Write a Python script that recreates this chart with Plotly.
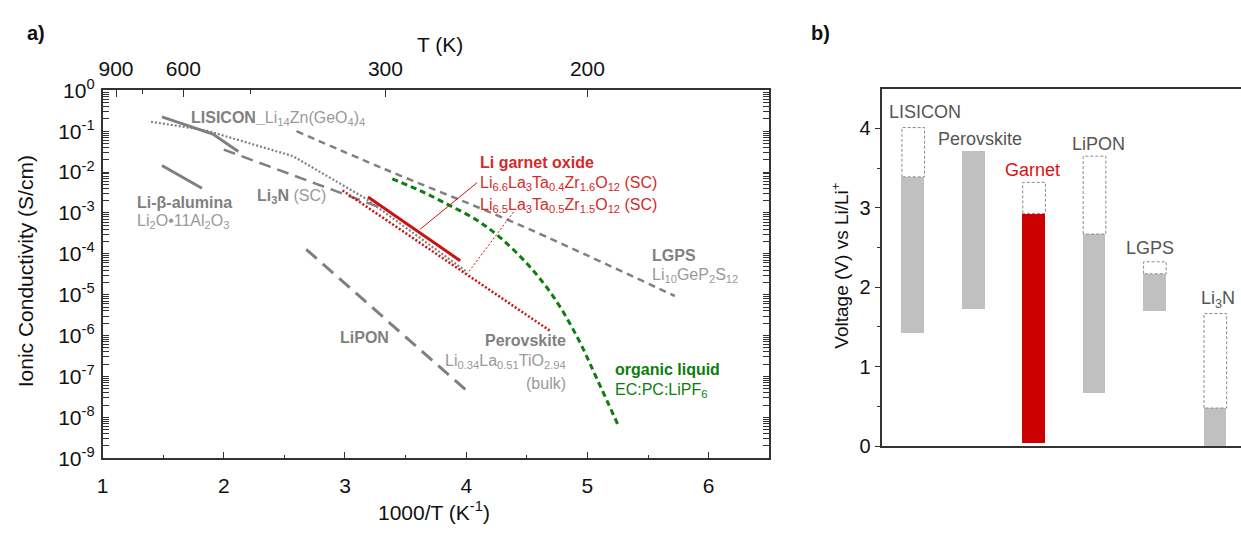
import plotly.graph_objects as go

FONT = "Liberation Sans, Arial, sans-serif"
GRAY = "#808080"
GRAY_T = "#999999"
RED = "#cc1111"
RED_T = "#d42a2a"
GREEN = "#0e7d0e"

# ---------------- panel a data (x = 1000/T, y = conductivity S/cm) -------------
beta_x = [1.49, 1.82]
beta_y = [1.45e-2, 4.0e-3]

lisicon_x = [1.49, 1.91, 2.12]
lisicon_y = [0.224, 0.085, 0.032]

perov_x = [1.40, 1.85, 2.57, 2.94, 3.16, 4.01]
perov_y = [0.17, 0.105, 0.0245, 5.5e-3, 2.35e-3, 3.55e-5]

g65_x = [2.98, 4.70]
g65_y = [3.55e-3, 1.26e-6]

g66_x = [3.19, 3.95]
g66_y = [2.45e-3, 6.8e-5]

li3n_x = [2.00, 3.30]
li3n_y = [3.55e-2, 1.32e-3]

lgps_x = [2.60, 3.33, 4.42, 5.72]
lgps_y = [0.10, 1.17e-2, 5.4e-4, 9.3e-6]

lipon_x = [2.68, 4.00]
lipon_y = [1.29e-4, 4.6e-8]

org_x = [3.39, 3.62, 3.85, 4.09, 4.28, 4.51, 4.72, 4.92, 5.08, 5.26]
org_y = [6.8e-3, 3.5e-3, 1.6e-3, 6.6e-4, 2.5e-4, 5.4e-5, 8.9e-6, 8.7e-7, 8.5e-8, 5.8e-9]

lead66_x = [4.09, 3.62]
lead66_y = [5.5e-3, 4.0e-4]
lead65_x = [4.39, 4.01]
lead65_y = [1.05e-3, 3.3e-5]

top_T = [900, 600, 300, 200]
top_T_minor = [750, 450]

# ---------------- panel b data (voltage windows vs Li/Li+) --------------------
mat = ["LISICON", "Perovskite", "Garnet", "LiPON", "LGPS", "Li<sub>3</sub>N"]
solid_lo = [1.43, 1.73, 0.04, 0.675, 1.71, 0.0]
solid_hi = [3.39, 3.72, 2.93, 2.67, 2.17, 0.48]
dash_hi = [4.01, None, 3.32, 3.65, 2.32, 1.67]
bar_colors = ["#c0c0c0", "#c0c0c0", "#cc0000", "#c0c0c0", "#c0c0c0", "#c0c0c0"]
lab_colors = ["#555555", "#555555", "#dd1111", "#555555", "#555555", "#555555"]
lab_dx = [0.19, 0.10, -0.02, 0.06, -0.08, 0.04]
lab_y = [4.20, 3.87, 3.48, 3.80, 2.50, 1.84]
BW = 0.375

fig = go.Figure()

def line(x, y, color, width, dash="solid", xa="x", ya="y", shape="linear"):
    fig.add_trace(go.Scatter(x=x, y=y, mode="lines", xaxis=xa, yaxis=ya,
                             line=dict(color=color, width=width, dash=dash, shape=shape),
                             hoverinfo="skip", showlegend=False))

line(beta_x, beta_y, GRAY, 3)
line(lisicon_x, lisicon_y, GRAY, 3)
line(perov_x, perov_y, GRAY, 2.2, "2px,2px")
line(li3n_x, li3n_y, GRAY, 2.5, "12px,7px")
line(lgps_x, lgps_y, GRAY, 2.5, "7px,5px", shape="spline")
line(lipon_x, lipon_y, GRAY, 3, "14px,8px")
line(g65_x, g65_y, RED, 2.5, "2px,2px")
line(g66_x, g66_y, RED, 3)
line(org_x, org_y, GREEN, 3, "6px,4px", shape="spline")
line(lead66_x, lead66_y, RED, 1)
line(lead65_x, lead65_y, RED, 1, "2px,2px")

# invisible trace to activate the top temperature axis
fig.add_trace(go.Scatter(x=[1000 / 300], y=[1e-5], mode="markers", xaxis="x2", yaxis="y",
                         marker=dict(opacity=0), hoverinfo="skip", showlegend=False))

# ---------------- panel b bars ----------------
xs = list(range(1, len(mat) + 1))
fig.add_trace(go.Bar(x=xs, y=[h - l for l, h in zip(solid_lo, solid_hi)], base=solid_lo,
                     width=BW, marker=dict(color=bar_colors, line=dict(width=0)),
                     xaxis="x3", yaxis="y3", hoverinfo="skip", showlegend=False))
for xi, lo, hi in zip(xs, solid_hi, dash_hi):
    if hi is None:
        continue
    line([xi - BW / 2, xi - BW / 2, xi + BW / 2, xi + BW / 2, xi - BW / 2],
         [lo, hi, hi, lo, lo], "#8a8a8a", 1, "3px,2px", xa="x3", ya="y3")

ann = []
def txt(x, y, s, color, size=16, xanchor="left", xref="x", yref="y", bold=False):
    ann.append(dict(x=x, y=y, xref=xref, yref=yref, text=(f"<b>{s}</b>" if bold else s),
                    showarrow=False, xanchor=xanchor, yanchor="middle",
                    font=dict(family=FONT, size=size, color=color)))

# panel a labels (y in log10 units)
ann.append(dict(x=1.71, y=-0.70, xref="x", yref="y", showarrow=False, xanchor="left", yanchor="middle",
                text=f"<b>LISICON_</b><span style='color:{GRAY_T}'>Li<sub>14</sub>Zn(GeO<sub>4</sub>)<sub>4</sub></span>",
                font=dict(family=FONT, size=16, color=GRAY)))
txt(1.27, -2.75, "Li-β-alumina", GRAY, bold=True)
txt(1.27, -3.22, "Li<sub>2</sub>O•11Al<sub>2</sub>O<sub>3</sub>", GRAY_T)
ann.append(dict(x=2.26, y=-2.59, xref="x", yref="y", showarrow=False, xanchor="left", yanchor="middle",
                text=f"<b>Li<sub>3</sub>N</b> <span style='color:{GRAY_T}'>(SC)</span>",
                font=dict(family=FONT, size=16, color=GRAY)))
txt(4.10, -1.77, "Li garnet oxide", RED_T, bold=True)
txt(4.10, -2.28, "Li<sub>6.6</sub>La<sub>3</sub>Ta<sub>0.4</sub>Zr<sub>1.6</sub>O<sub>12</sub> (SC)", RED_T)
txt(4.10, -2.82, "Li<sub>6.5</sub>La<sub>3</sub>Ta<sub>0.5</sub>Zr<sub>1.5</sub>O<sub>12</sub> (SC)", RED_T)
txt(5.52, -4.03, "LGPS", GRAY, bold=True)
txt(5.52, -4.52, "Li<sub>10</sub>GeP<sub>2</sub>S<sub>12</sub>", GRAY_T)
txt(2.94, -6.04, "LiPON", GRAY, bold=True)
txt(4.84, -6.11, "Perovskite", GRAY, xanchor="right", bold=True)
txt(4.84, -6.64, "Li<sub>0.34</sub>La<sub>0.51</sub>TiO<sub>2.94</sub>", GRAY_T, xanchor="right")
txt(4.84, -7.16, "(bulk)", GRAY_T, xanchor="right")
txt(5.21, -6.83, "organic liquid", GREEN, bold=True)
txt(5.21, -7.34, "EC:PC:LiPF<sub>6</sub>", GREEN)

# panel b labels
for xi, nm, dx, yy, c in zip(xs, mat, lab_dx, lab_y, lab_colors):
    txt(xi + dx, yy, nm, c, size=18, xanchor="center", xref="x3", yref="y3")

# titles / panel letters (paper coords)
def ptxt(xp, yp, s, size, angle=0, bold=False, color="#111111"):
    ann.append(dict(x=xp / 1241, y=1 - yp / 536, xref="paper", yref="paper", showarrow=False,
                    text=(f"<b>{s}</b>" if bold else s), textangle=angle,
                    xanchor="center", yanchor="middle",
                    font=dict(family=FONT, size=size, color=color)))

ptxt(30, 20, "a)", 20, bold=True)
ptxt(818, 20, "b)", 20, bold=True)
ptxt(436, 32, "T (K)", 21)
ptxt(430, 521, "1000/T (K<sup>-1</sup>)", 21)
ptxt(20, 270, "Ionic Conductivity (S/cm)", 21, angle=-90)
ptxt(838, 264, "Voltage (V) vs Li/Li<sup>+</sup>", 19, angle=-90)

AX = "#333333"
dec = [10.0 ** (-k) for k in range(0, 10)]
dec_txt = [f"10<sup>{-k}</sup>" if k else "10<sup>0</sup>" for k in range(0, 10)]
minor_log = [m * 10.0 ** (-k) for k in range(1, 10) for m in range(2, 10)]

fig.update_layout(
    width=1241, height=536, margin=dict(l=0, r=0, t=0, b=0),
    paper_bgcolor="white", plot_bgcolor="rgba(0,0,0,0)",
    font=dict(family=FONT, size=20, color="#111111"),
    showlegend=False, annotations=ann, bargap=0,
    xaxis=dict(domain=[97 / 1241, 767 / 1241], range=[1, 6.5], anchor="y",
               tickvals=[1, 2, 3, 4, 5, 6], ticks="inside", ticklen=7, tickcolor=AX,
               minor=dict(tickvals=[1.5, 2.5, 3.5, 4.5, 5.5], ticks="inside", ticklen=4, tickcolor=AX),
               showline=True, linecolor=AX, linewidth=1.5, mirror=True, showgrid=False, zeroline=False,
               tickfont=dict(size=21), ticklabelstandoff=8),
    xaxis2=dict(overlaying="x", side="top", anchor="y", range=[1, 6.5],
                tickvals=[1000 / t for t in top_T], ticktext=[str(t) for t in top_T],
                ticks="inside", ticklen=7, tickcolor=AX,
                minor=dict(tickvals=[1000 / t for t in top_T_minor], ticks="inside", ticklen=4, tickcolor=AX),
                showline=False, showgrid=False, zeroline=False, tickfont=dict(size=21),
                ticklabelstandoff=9),
    yaxis=dict(domain=[70 / 536, 456 / 536], type="log", range=[-9, 0], anchor="x",
               tickvals=dec, ticktext=dec_txt, ticks="inside", ticklen=7, tickcolor=AX,
               minor=dict(tickvals=minor_log, ticks="inside", ticklen=3.5, tickcolor=AX),
               showline=True, linecolor=AX, linewidth=1.5, mirror="allticks",
               showgrid=False, zeroline=False, tickfont=dict(size=21), ticklabelstandoff=2),
    xaxis3=dict(domain=[880.7 / 1241, 1.0], range=[0.49, 6.425], anchor="y3",
                showticklabels=False, ticks="", showline=True, linecolor=AX, linewidth=1.5,
                mirror=True, showgrid=False, zeroline=False),
    yaxis3=dict(domain=[82.7 / 536, 457.7 / 536], range=[0, 4.5], anchor="x3",
                tickvals=[0, 1, 2, 3, 4], ticks="outside", ticklen=6, tickcolor=AX,
                minor=dict(tickvals=[0.5, 1.5, 2.5, 3.5], ticks="outside", ticklen=3.5, tickcolor=AX),
                showline=True, linecolor=AX, linewidth=1.5, showgrid=False, zeroline=False,
                tickfont=dict(size=20)),
)

fig.write_html("out.html")
